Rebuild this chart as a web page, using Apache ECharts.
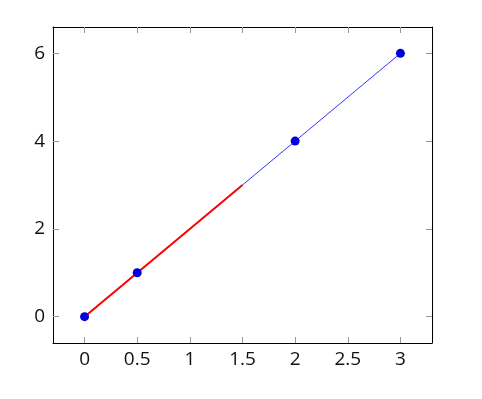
<!DOCTYPE html>
<html><head><meta charset="utf-8">
<script src="https://cdn.jsdelivr.net/npm/echarts@6/dist/echarts.min.js"></script>
<style>html,body{margin:0;padding:0;background:#fff}#c{width:482px;height:399px}</style>
</head><body><div id="c"></div>
<script>
const xTicks = [0, 0.5, 1, 1.5, 2, 2.5, 3];
const yTicks = [0, 2, 4, 6];
const blueX = [0, 0.5, 2, 3];
const blueY = [0, 1, 4, 6];
const redX = [0, 1.5];
const redY = [0, 3];
const X_MIN = -0.3, X_MAX = 3.3, Y_MIN = -0.6, Y_MAX = 6.6;

const bluePts = blueX.map((x, i) => [x, blueY[i]]);
const redPts = redX.map((x, i) => [x, redY[i]]);
const FONT = 'Open Sans';
function axis(kind, pos, ticks, show) {
  return {
    type: 'value', position: pos,
    min: kind === 'x' ? X_MIN : Y_MIN, max: kind === 'x' ? X_MAX : Y_MAX,
    splitLine: {show: false},
    axisLine: {show: true, onZero: false, lineStyle: {color: '#000', width: 1}},
    axisTick: {show: true, inside: true, length: 6, customValues: ticks, lineStyle: {color: '#999', width: 1}},
    axisLabel: {show: show, customValues: ticks, color: '#111', fontFamily: FONT, fontSize: 19, margin: kind === 'x' ? 7 : 8,
      formatter: v => String(v)},
  };
}
const chart = echarts.init(document.getElementById('c'), null, {renderer: 'canvas'});
chart.setOption({
  animation: false,
  grid: {left: 53, right: 50, top: 27, bottom: 56, containLabel: false},
  xAxis: [axis('x', 'bottom', xTicks, true), axis('x', 'top', xTicks, false)],
  yAxis: [axis('y', 'left', yTicks, true), axis('y', 'right', yTicks, false)],
  series: [
    {type: 'line', data: bluePts, showSymbol: false, symbol: 'none', lineStyle: {color: '#0000ff', width: 0.8}, z: 1},
    {type: 'line', data: redPts, showSymbol: false, symbol: 'none', lineStyle: {color: '#ff0000', width: 2}, z: 2},
    {type: 'scatter', data: bluePts, symbol: 'circle', symbolSize: 9, itemStyle: {color: '#0000dd', opacity: 1}, z: 3}
  ]
});
</script></body></html>
